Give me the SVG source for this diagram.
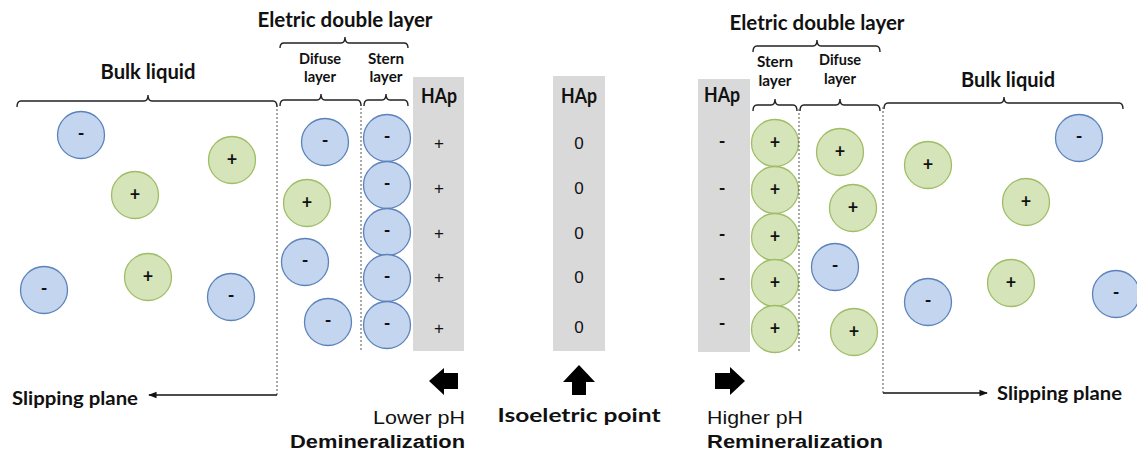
<svg xmlns="http://www.w3.org/2000/svg" width="1137" height="457" viewBox="0 0 1137 457">
  <defs>
    <style>
      .t { font-family: Lato, "Open Sans", sans-serif; font-weight: bold; fill: #111; }
      .title { font-size: 20px; }
      .sub { font-size: 15px; }
      .hap { font-size: 20px; text-anchor: middle; }
      .sgn { font-family: "Liberation Sans", Arial, sans-serif; font-size: 17px; fill: #111; text-anchor: middle; }
      .ion { font-family: Lato, sans-serif; font-weight: bold; font-size: 18px; fill: #111; text-anchor: middle; }
      .ar { font-family: "Liberation Sans", Arial, sans-serif; font-size: 18px; fill: #111; }
      .brace { fill: none; stroke: #222; stroke-width: 1.4; }
      .dot { stroke: #555; stroke-width: 1; stroke-dasharray: 2 2; fill: none; }
      .neg { fill: #c4d6ef; stroke: #5b82ba; stroke-width: 1.3; }
      .pos { fill: #d6e4b9; stroke: #9fbd66; stroke-width: 1.3; }
      .panel { fill: #d9d9d9; }
      .conn { stroke: #111; stroke-width: 1.4; fill: none; }
    </style>
    <marker id="tip" viewBox="0 0 10 10" refX="9" refY="5" markerWidth="6" markerHeight="6" orient="auto-start-reverse">
      <path d="M0,1 L10,5 L0,9 Z" fill="#111"/>
    </marker>
    <symbol id="n" overflow="visible">
      <circle class="neg" cx="0" cy="0" r="23.5"/>
      <text class="ion" x="0" y="5">-</text>
    </symbol>
    <symbol id="p" overflow="visible">
      <circle class="pos" cx="0" cy="0" r="23.5"/>
      <text class="ion" x="0" y="6">+</text>
    </symbol>
  </defs>

  <!-- Left: lower pH side -->
  <g id="left-labels">
    <text class="t title" x="345" y="27" text-anchor="middle" textLength="175" lengthAdjust="spacingAndGlyphs">Eletric double layer</text>
    <text class="t title" x="148" y="79" text-anchor="middle" textLength="95" lengthAdjust="spacingAndGlyphs">Bulk liquid</text>
    <text class="t sub" x="320" y="64" text-anchor="middle" textLength="42" lengthAdjust="spacingAndGlyphs">Difuse</text>
    <text class="t sub" x="320" y="82" text-anchor="middle" textLength="32" lengthAdjust="spacingAndGlyphs">layer</text>
    <text class="t sub" x="386" y="64" text-anchor="middle" textLength="36" lengthAdjust="spacingAndGlyphs">Stern</text>
    <text class="t sub" x="386" y="82" text-anchor="middle" textLength="33" lengthAdjust="spacingAndGlyphs">layer</text>
  </g>
  <g id="left-braces">
    <path class="brace" d="M280,48 Q280,43 284,43 L341,43 Q345,43 345,37 Q345,43 349,43 L404,43 Q408,43 408,48"/>
    <path class="brace" d="M17,107 Q17,101 21,101 L144,101 Q148,101 148,95 Q148,101 152,101 L273,101 Q277,101 277,107"/>
    <path class="brace" d="M280,106 Q280,100 284,100 L317,100 Q321,100 321,94 Q321,100 325,100 L357,100 Q361,100 361,106"/>
    <path class="brace" d="M364,106 Q364,100 368,100 L382,100 Q386,100 386,94 Q386,100 390,100 L404,100 Q408,100 408,106"/>
  </g>
  <g id="left-hap">
    <rect class="panel" x="413" y="77" width="51" height="274"/>
    <text class="t hap" x="439" y="103" textLength="36" lengthAdjust="spacingAndGlyphs">HAp</text>
    <text class="sgn" x="439" y="149">+</text>
    <text class="sgn" x="439" y="194">+</text>
    <text class="sgn" x="439" y="239">+</text>
    <text class="sgn" x="439" y="283">+</text>
    <text class="sgn" x="439" y="334">+</text>
  </g>
  <g id="left-ions">
    <use href="#n" x="81" y="135"/>
    <use href="#p" x="232" y="160"/>
    <use href="#p" x="135" y="195"/>
    <use href="#p" x="148" y="277"/>
    <use href="#n" x="44" y="290"/>
    <use href="#n" x="231" y="297"/>
    <use href="#n" x="325" y="142"/>
    <use href="#p" x="307" y="203"/>
    <use href="#n" x="305" y="262"/>
    <use href="#n" x="328" y="322"/>
    <use href="#n" x="387" y="138"/>
    <use href="#n" x="387" y="185"/>
    <use href="#n" x="387" y="232"/>
    <use href="#n" x="387" y="278"/>
    <use href="#n" x="387" y="325"/>
  </g>

  <!-- Centre: isoelectric point -->
  <g id="center-hap">
    <rect class="panel" x="553" y="76" width="52" height="275"/>
    <text class="t hap" x="579" y="103" textLength="36" lengthAdjust="spacingAndGlyphs">HAp</text>
    <text class="sgn" x="579" y="149">0</text>
    <text class="sgn" x="579" y="194">0</text>
    <text class="sgn" x="579" y="239">0</text>
    <text class="sgn" x="579" y="283">0</text>
    <text class="sgn" x="579" y="333">0</text>
  </g>

  <!-- Right: higher pH side -->
  <g id="right-labels">
    <text class="t title" x="817" y="30" text-anchor="middle" textLength="175" lengthAdjust="spacingAndGlyphs">Eletric double layer</text>
    <text class="t title" x="1008" y="87" text-anchor="middle" textLength="94" lengthAdjust="spacingAndGlyphs">Bulk liquid</text>
    <text class="t sub" x="775" y="67" text-anchor="middle" textLength="36" lengthAdjust="spacingAndGlyphs">Stern</text>
    <text class="t sub" x="775" y="86" text-anchor="middle" textLength="33" lengthAdjust="spacingAndGlyphs">layer</text>
    <text class="t sub" x="840" y="65" text-anchor="middle" textLength="42" lengthAdjust="spacingAndGlyphs">Difuse</text>
    <text class="t sub" x="840" y="84" text-anchor="middle" textLength="32" lengthAdjust="spacingAndGlyphs">layer</text>
  </g>
  <g id="right-braces">
    <path class="brace" d="M753,52 Q753,46 757,46 L813,46 Q817,46 817,40 Q817,46 821,46 L876,46 Q880,46 880,52"/>
    <path class="brace" d="M753,111 Q753,105 757,105 L771,105 Q775,105 775,99 Q775,105 779,105 L793,105 Q797,105 797,111"/>
    <path class="brace" d="M800,111 Q800,105 804,105 L836,105 Q840,105 840,99 Q840,105 844,105 L876,105 Q880,105 880,111"/>
    <path class="brace" d="M884,109 Q884,103 888,103 L1000,103 Q1004,103 1004,97 Q1004,103 1008,103 L1119,103 Q1123,103 1123,109"/>
  </g>
  <g id="right-hap">
    <rect class="panel" x="698" y="79" width="52" height="273"/>
    <text class="t hap" x="722" y="102" textLength="36" lengthAdjust="spacingAndGlyphs">HAp</text>
    <text class="ion" x="722" y="148">-</text>
    <text class="ion" x="722" y="195">-</text>
    <text class="ion" x="722" y="241">-</text>
    <text class="ion" x="722" y="285">-</text>
    <text class="ion" x="722" y="330">-</text>
  </g>
  <g id="right-ions">
    <use href="#p" x="775" y="143"/>
    <use href="#p" x="775" y="190"/>
    <use href="#p" x="775" y="237"/>
    <use href="#p" x="775" y="283"/>
    <use href="#p" x="775" y="329"/>
    <use href="#p" x="840" y="152"/>
    <use href="#p" x="853" y="208"/>
    <use href="#n" x="835" y="267"/>
    <use href="#p" x="854" y="332"/>
    <use href="#p" x="928" y="165"/>
    <use href="#n" x="1079" y="138"/>
    <use href="#p" x="1026" y="202"/>
    <use href="#p" x="1011" y="283"/>
    <use href="#n" x="928" y="302"/>
    <use href="#n" x="1116" y="294"/>
  </g>

  <!-- Slipping planes and boundaries -->
  <g id="connectors">
    <line class="dot" x1="277" y1="105" x2="277" y2="395"/>
    <line class="dot" x1="361" y1="104" x2="361" y2="352"/>
    <line class="dot" x1="799" y1="109" x2="799" y2="352"/>
    <line class="dot" x1="883" y1="107" x2="883" y2="393"/>
    <line class="conn" x1="277" y1="395" x2="149" y2="395" marker-end="url(#tip)"/>
    <line class="conn" x1="883" y1="393" x2="987" y2="393" marker-end="url(#tip)"/>
  </g>
  <g id="slip-left">
    <text class="t" x="12" y="405" font-size="18" textLength="126" lengthAdjust="spacingAndGlyphs">Slipping plane</text>
  </g>
  <g id="slip-right">
    <text class="t" x="997" y="400" font-size="18" textLength="125" lengthAdjust="spacingAndGlyphs">Slipping plane</text>
  </g>

  <!-- pH direction arrows -->
  <g id="lower-ph">
    <polygon points="429,381 444,368 444,373 458,373 458,389 444,389 444,395" fill="#000"/>
    <text class="ar" x="465" y="424" text-anchor="end" textLength="92" lengthAdjust="spacingAndGlyphs">Lower pH</text>
    <text class="ar" x="465" y="448" text-anchor="end" font-weight="bold" textLength="175" lengthAdjust="spacingAndGlyphs">Demineralization</text>
  </g>
  <g id="isoelectric">
    <polygon points="579,365 595,382 586,382 586,395 572,395 572,382 563,382" fill="#000"/>
    <text class="t" x="579" y="422" font-size="19" text-anchor="middle" textLength="163" lengthAdjust="spacingAndGlyphs">Isoeletric point</text>
  </g>
  <g id="higher-ph">
    <polygon points="745,381 730,367 730,373 715,373 715,389 730,389 730,395" fill="#000"/>
    <text class="ar" x="707" y="424" textLength="96" lengthAdjust="spacingAndGlyphs">Higher pH</text>
    <text class="ar" x="707" y="448" font-weight="bold" textLength="176" lengthAdjust="spacingAndGlyphs">Remineralization</text>
  </g>
</svg>
